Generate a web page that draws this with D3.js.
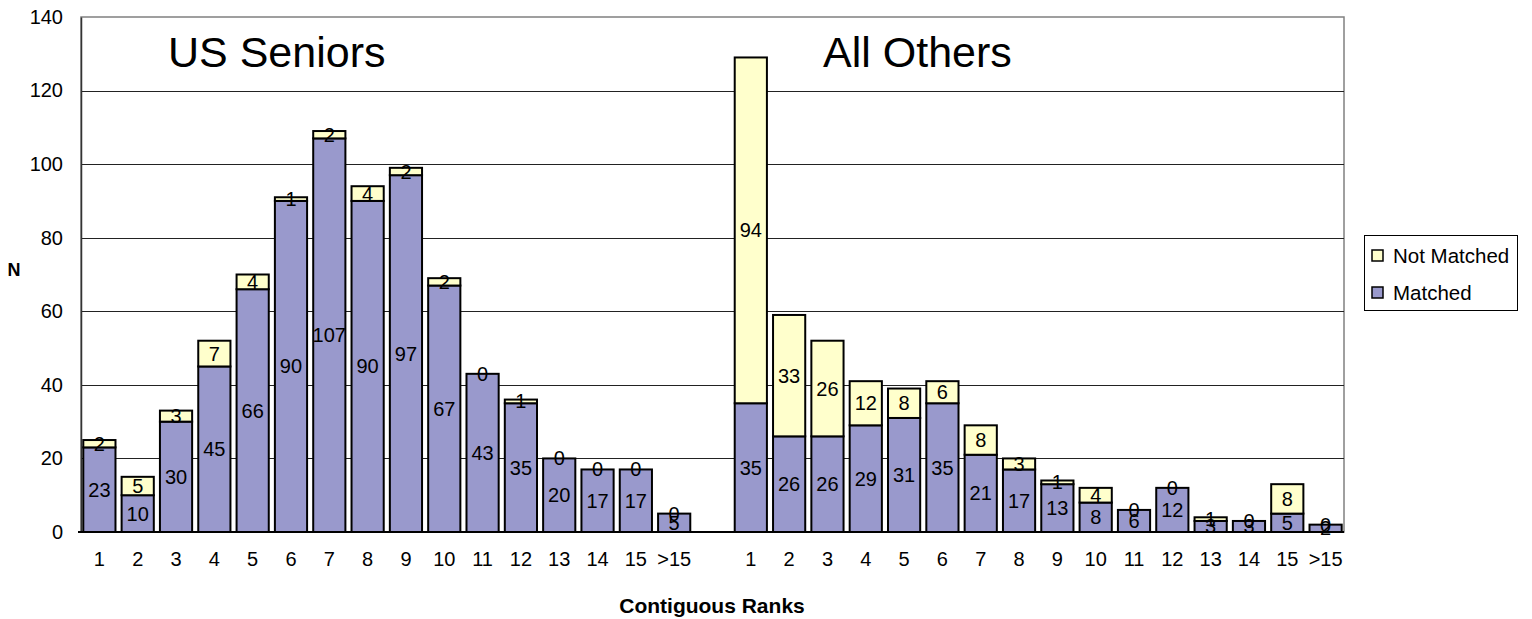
<!DOCTYPE html>
<html>
<head>
<meta charset="utf-8">
<script src="https://cdn.jsdelivr.net/npm/d3@7"></script>
<style>
  html, body { margin: 0; padding: 0; background: #fff; }
  svg { display: block; font-family: "Liberation Sans", Arial, sans-serif; }
</style>
</head>
<body>
<svg id="chart" width="1532" height="619"></svg>
<script>
const categories = ["1","2","3","4","5","6","7","8","9","10","11","12","13","14","15",">15"];
const groups = ["US Seniors", "All Others"];
const usMatched    = [23,10,30,45,66,90,107,90,97,67,43,35,20,17,17,5];
const usNotMatched = [2,5,3,7,4,1,2,4,2,2,0,1,0,0,0,0];
const aoMatched    = [35,26,26,29,31,35,21,17,13,8,6,12,3,3,5,2];
const aoNotMatched = [94,33,26,12,8,6,8,3,1,4,0,0,1,0,8,0];
const seriesNames = ["Not Matched", "Matched"];
const yTicks = [0,20,40,60,80,100,120,140];

const colors = { "Matched": "#9999CC", "Not Matched": "#FFFFCC" };

const svg = d3.select("#chart");
const pL = 81, pR = 1344, pT = 17, pB = 532;

// build rows: group slots plus an empty gap slot
const rows = [];
categories.forEach((c, i) => rows.push({ key: "US|" + c, label: c, m: usMatched[i], n: usNotMatched[i] }));
rows.push({ key: "gap", label: "", m: null, n: null });
categories.forEach((c, i) => rows.push({ key: "AO|" + c, label: c, m: aoMatched[i], n: aoNotMatched[i] }));

const x = d3.scaleBand().domain(rows.map(r => r.key)).range([pL, pR]).paddingInner(0.16).paddingOuter(0.06);
const y = d3.scaleLinear().domain([0, 140]).range([pB, pT]);

// plot frame
svg.append("rect").attr("x", pL).attr("y", pT).attr("width", pR - pL).attr("height", pB - pT)
  .attr("fill", "#fff").attr("stroke", "#808080").attr("stroke-width", 1.5);

// grid
svg.append("g").selectAll("line").data(yTicks.filter(t => t > 0 && t < 140)).join("line")
  .attr("x1", pL).attr("x2", pR)
  .attr("y1", d => Math.round(y(d)) + 0.5).attr("y2", d => Math.round(y(d)) + 0.5)
  .attr("stroke", "#222").attr("stroke-width", 1);

// y axis
const yAxis = d3.axisLeft(y).tickValues(yTicks).tickSize(0).tickPadding(18);
const gy = svg.append("g").attr("transform", `translate(${pL},0)`).call(yAxis);
gy.select(".domain").attr("stroke", "#333").attr("stroke-width", 1.5);
gy.selectAll("text").attr("font-size", 20).attr("font-family", "Liberation Sans, Arial, sans-serif").attr("fill", "#000");

// x axis
const xAxis = d3.axisBottom(x).tickSize(0).tickPadding(20).tickFormat(k => rows.find(r => r.key === k).label);
const gx = svg.append("g").attr("transform", `translate(0,${pB})`).call(xAxis);
gx.select(".domain").remove();
gx.selectAll("text").attr("font-size", 20).attr("font-family", "Liberation Sans, Arial, sans-serif").attr("fill", "#000");
svg.append("line").attr("x1", pL - 3).attr("x2", pR).attr("y1", pB).attr("y2", pB)
  .attr("stroke", "#000").attr("stroke-width", 2);

// bars
const data = rows.filter(r => r.m !== null);
const bw = x.bandwidth();
const bars = svg.append("g");
data.forEach(r => {
  const x0 = x(r.key);
  bars.append("rect").attr("x", x0).attr("width", bw)
    .attr("y", y(r.m)).attr("height", y(0) - y(r.m))
    .attr("fill", colors["Matched"]).attr("stroke", "#000").attr("stroke-width", 2);
  bars.append("rect").attr("x", x0).attr("width", bw)
    .attr("y", y(r.m + r.n)).attr("height", y(r.m) - y(r.m + r.n))
    .attr("fill", colors["Not Matched"]).attr("stroke", "#000").attr("stroke-width", 2);
});
// labels
const labels = svg.append("g").attr("font-size", 20).attr("text-anchor", "middle").attr("fill", "#000");
data.forEach(r => {
  const cx = x(r.key) + bw / 2;
  labels.append("text").attr("x", cx).attr("y", (y(0) + y(r.m)) / 2).attr("dy", "0.35em").text(r.m);
  labels.append("text").attr("x", cx).attr("y", (y(r.m) + y(r.m + r.n)) / 2).attr("dy", "0.35em").text(r.n);
});

// group titles
svg.append("text").attr("x", 168).attr("y", 67).attr("font-size", 43).text(groups[0]);
svg.append("text").attr("x", 823).attr("y", 67).attr("font-size", 43).text(groups[1]);

// axis titles
svg.append("text").attr("x", 712).attr("y", 613).attr("text-anchor", "middle")
  .attr("font-size", 21).attr("font-weight", "bold").text("Contiguous Ranks");
svg.append("text").attr("x", 14).attr("y", 276).attr("text-anchor", "middle")
  .attr("font-size", 18).attr("font-weight", "bold").text("N");

// legend
const lg = svg.append("g");
lg.append("rect").attr("x", 1364.5).attr("y", 235.5).attr("width", 153).attr("height", 75)
  .attr("fill", "#fff").attr("stroke", "#000").attr("stroke-width", 1);
seriesNames.forEach((s, i) => {
  const cy = 255.5 + i * 37;
  lg.append("rect").attr("x", 1372).attr("y", cy - 5.5).attr("width", 11).attr("height", 11)
    .attr("fill", colors[s]).attr("stroke", "#000").attr("stroke-width", 1.5);
  lg.append("text").attr("x", 1393).attr("y", cy).attr("dy", "0.35em").attr("font-size", 20.5).text(s);
});
</script>
</body>
</html>
